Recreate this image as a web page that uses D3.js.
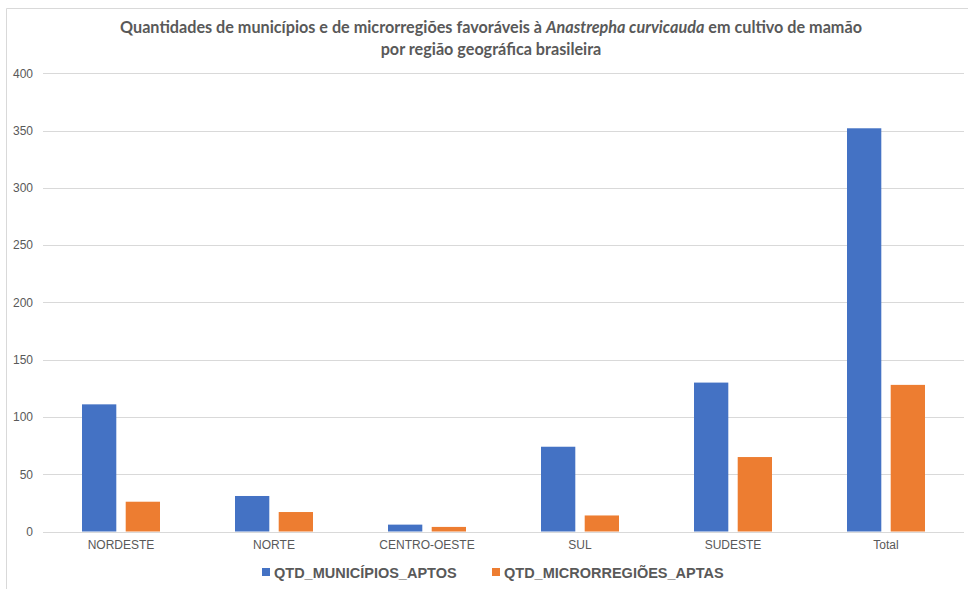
<!DOCTYPE html>
<html><head><meta charset="utf-8">
<script src="https://cdn.jsdelivr.net/npm/d3@7"></script>
<style>body{margin:0;background:#fff}svg{display:block}</style>
</head><body>
<svg id="c" width="968" height="589"></svg>
<script>
const categories = ["NORDESTE","NORTE","CENTRO-OESTE","SUL","SUDESTE","Total"];
const seriesNames = ["QTD_MUNICÍPIOS_APTOS","QTD_MICRORREGIÕES_APTAS"];
const municipios = [111,31,6,74,130,352];
const microrregioes = [26,17,4,14,65,128];
const yTicks = [0,50,100,150,200,250,300,350,400];
const colors = ["#4472C4","#ED7D31"];

const svg = d3.select("#c");
// chart frame
svg.append("path").attr("d","M6.5,589 V8.5 H968").attr("fill","none").attr("stroke","#d9d9d9").attr("stroke-width",1);

const x = d3.scaleBand().domain(categories).range([44.5,962.5]).paddingInner(0).paddingOuter(0);
const xs = d3.scaleBand().domain(seriesNames).range([-39,39]).paddingInner(0.215);
const y = d3.scaleLinear().domain([0,400]).range([531.5,73.3]);

// gridlines
svg.append("g").selectAll("line").data(yTicks).join("line")
  .attr("x1",43).attr("x2",964).attr("y1",d=>Math.round(y(d))+0.5).attr("y2",d=>Math.round(y(d))+0.5)
  .attr("stroke","#d9d9d9").attr("stroke-width",1);

// y axis labels
const yAxis = d3.axisLeft(y).tickValues(yTicks).tickSize(0).tickPadding(0);
const yg = svg.append("g").attr("transform","translate(33,0)").call(yAxis);
yg.select(".domain").remove();
yg.selectAll("text").attr("fill","#595959").style("font-family","'Liberation Sans',Arial,sans-serif").style("font-size","12px");

// x axis labels
const xAxis = d3.axisBottom(x).tickSize(0).tickPadding(0);
const xg = svg.append("g").attr("transform","translate(0,540)").call(xAxis);
xg.select(".domain").remove();
xg.selectAll("text").attr("fill","#595959").style("font-family","'Liberation Sans',Arial,sans-serif").style("font-size","12px");

const data = [municipios, microrregioes];
seriesNames.forEach((s,i)=>{
  svg.append("g").selectAll("rect").data(categories).join("rect")
    .attr("x",(c)=>x(c)+x.bandwidth()/2+xs(s))
    .attr("width",xs.bandwidth())
    .attr("y",(c,j)=>y(data[i][j]))
    .attr("height",(c,j)=>y(0)-y(data[i][j]))
    .attr("fill",colors[i]);
});
// baseline axis line on top
svg.append("line").attr("x1",43).attr("x2",964).attr("y1",Math.round(y(0))+0.5).attr("y2",Math.round(y(0))+0.5).attr("stroke","#d9d9d9");

// title
const title = svg.append("text").attr("text-anchor","middle").attr("fill","#595959")
  .style("font-family","Lato,'Open Sans',sans-serif").style("font-weight","bold").style("font-size","16.2px");
const t1 = title.append("tspan").attr("x",491).attr("y",33);
t1.append("tspan").text("Quantidades de municípios e de microrregiões favoráveis à ");
t1.append("tspan").style("font-style","italic").text("Anastrepha curvicauda");
t1.append("tspan").text(" em cultivo de mamão");
title.append("tspan").attr("x",491).attr("y",55).text("por região geográfica brasileira");

// legend
const legX = [262,492];
seriesNames.forEach((s,i)=>{
  svg.append("rect").attr("x",legX[i]).attr("y",568).attr("width",8).attr("height",8).attr("fill",colors[i]);
  svg.append("text").attr("x",legX[i]+12).attr("y",577.5).text(s).attr("fill","#595959")
    .style("font-family","'Liberation Sans',Arial,sans-serif").style("font-size","14.5px").style("font-weight","bold");
});
</script>
</body></html>
